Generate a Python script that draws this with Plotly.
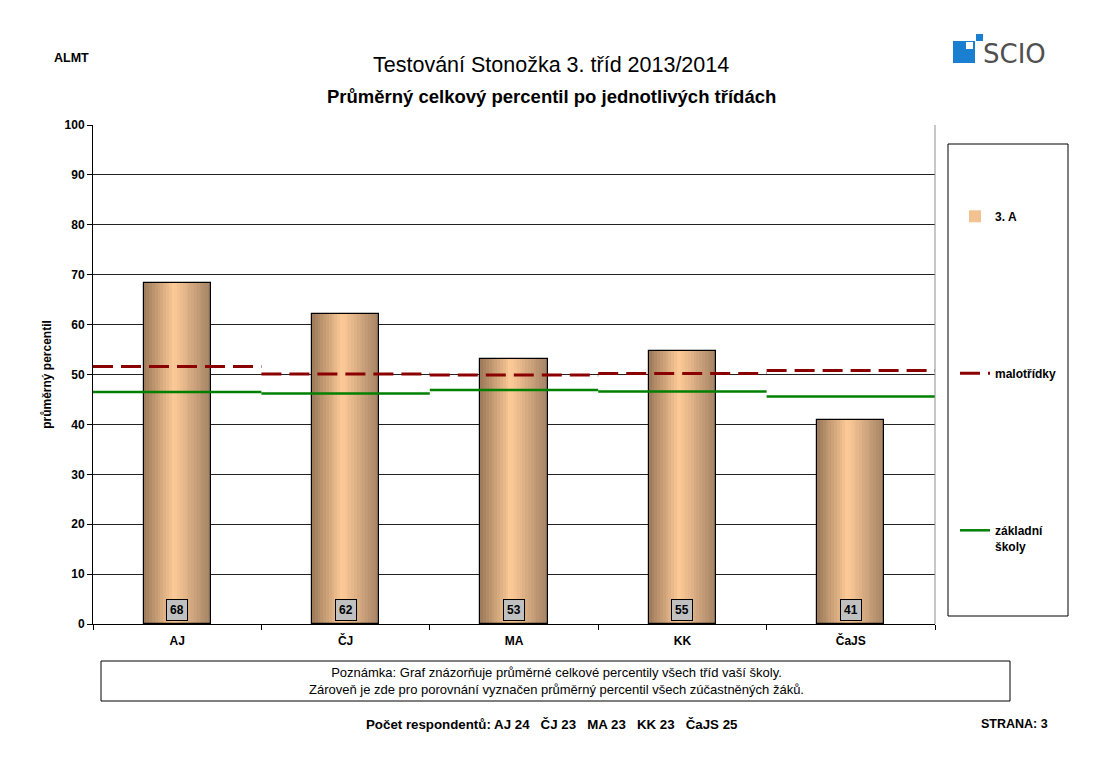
import plotly.graph_objects as go

# ---- data ----
categories = ["AJ", "ČJ", "MA", "KK", "ČaJS"]
class_values = [68.3, 62.1, 53.1, 54.7, 40.9]          # 3. A
malotridky = [51.6, 50.1, 49.9, 50.2, 50.8]
zakladni = [46.5, 46.2, 46.9, 46.6, 45.6]
respondents = [24, 23, 23, 23, 25]
series_names = ["3. A", "malotřídky", "základní<br>školy"]

# ---- geometry helpers (layout only) ----
W, H = 1114, 763
L, R, T, B = 93, 935, 125, 624
def px(x):
    return (x - L) / (R - L)
def py(y):
    return (B - y) / (B - T)

def lerp(c1, c2, t):
    return "#%02x%02x%02x" % tuple(round(a + (b - a) * t) for a, b in zip(c1, c2))

EDGE_L = (0xa0, 0x7c, 0x5c)
MID = (0xfe, 0xcb, 0x98)
EDGE_R = (0xa6, 0x84, 0x66)
PEAK = 0.45

fig = go.Figure()

BAR_W = 0.4
N = 24
for k in range(N):
    t = k / (N - 1)
    if t <= PEAK:
        col = lerp(EDGE_L, MID, t / PEAK)
    else:
        col = lerp(MID, EDGE_R, (t - PEAK) / (1 - PEAK))
    start = -BAR_W / 2 + k * BAR_W / N
    fig.add_trace(go.Bar(
        x=categories, y=class_values, offset=start, width=BAR_W / 2 - start,
        marker=dict(color=col, line=dict(width=0)),
        showlegend=(k == N // 2), name="<b>%s</b>" % series_names[0], legendgroup="a",
        hoverinfo="skip"))
fig.add_trace(go.Bar(
    x=categories, y=class_values, offset=-BAR_W / 2, width=BAR_W,
    marker=dict(color="rgba(0,0,0,0)", line=dict(color="black", width=1.2)),
    showlegend=False, name=series_names[0], legendgroup="a"))

def segments(vals):
    xx, yy = [], []
    for i, v in enumerate(vals):
        xx += [i - 0.5, i + 0.5, None]
        yy += [v, v, None]
    return xx, yy

mx, my = segments(malotridky)
fig.add_trace(go.Scatter(x=mx, y=my, mode="lines", xaxis="x2", name="<b>%s</b>" % series_names[1],
                         legendgroup="m",
                         line=dict(color="#8b0000", width=3, dash="20px,8px")))
zx, zy = segments(zakladni)
fig.add_trace(go.Scatter(x=zx, y=zy, mode="lines", xaxis="x2", name="<b>%s</b>" % series_names[2],
                         legendgroup="z",
                         line=dict(color="#008000", width=2.5)))

F = "Liberation Sans, Arial"
annotations = []
for c, v in zip(categories, class_values):
    annotations.append(dict(x=c, y=2.9, xref="x", yref="y", text="<b>%d</b>" % round(v),
                            showarrow=False, bgcolor="#c0c0c0", bordercolor="black",
                            borderwidth=1, borderpad=3, yanchor="middle",
                            font=dict(family=F, size=12, color="black")))

def txt(x, y, text, size, xanchor="center", family=F, color="black"):
    return dict(x=px(x), y=py(y), xref="paper", yref="paper", showarrow=False,
                xanchor=xanchor, yanchor="middle", text=text,
                font=dict(family=family, size=size, color=color))

annotations += [
    txt(551, 65, "Testování Stonožka 3. tříd 2013/2014", 21.5),
    txt(551, 96, "<b>Průměrný celkový percentil po jednotlivých třídách</b>", 18.5),
    txt(52, 58, "<b>ALMT</b>", 12.5, xanchor="left"),
    txt(981, 54, "SCIO", 26, xanchor="left", family="DejaVu Sans, Arial", color="#505050"),
    txt(556, 681, "Poznámka: Graf znázorňuje průměrné celkové percentily všech tříd vaší školy.<br>"
                  "Zároveň je zde pro porovnání vyznačen průměrný percentil všech zúčastněných žáků.", 13),
    txt(552, 724, "<b>Počet respondentů: " + "   ".join(f"{c} {n}" for c, n in zip(categories, respondents)) + "</b>", 13.3),
    txt(1050, 724, "<b>STRANA: 3</b>", 12.5, xanchor="right"),
]

shapes = [
    dict(type="line", xref="paper", yref="paper", x0=1, x1=1, y0=0, y1=1,
         line=dict(color="#909090", width=1)),
    dict(type="rect", xref="paper", yref="paper", x0=px(948), x1=px(1068), y0=py(616), y1=py(144),
         line=dict(color="black", width=1)),
    dict(type="rect", xref="paper", yref="paper", x0=px(101), x1=px(1010), y0=py(701), y1=py(661),
         line=dict(color="black", width=1)),
    dict(type="rect", xref="paper", yref="paper", x0=px(953), x1=px(975), y0=py(63), y1=py(41),
         line=dict(width=0), fillcolor="#1a7fd0"),
    dict(type="rect", xref="paper", yref="paper", x0=px(966), x1=px(973), y0=py(49), y1=py(42),
         line=dict(width=0), fillcolor="white"),
    dict(type="rect", xref="paper", yref="paper", x0=px(976), x1=px(983), y0=py(41), y1=py(34),
         line=dict(width=0), fillcolor="#1a7fd0"),
]

fig.update_layout(
    width=W, height=H,
    margin=dict(l=L, r=W - R, t=T, b=H - B),
    paper_bgcolor="white", plot_bgcolor="white",
    barmode="overlay", bargap=0,
    font=dict(family=F, size=11, color="black"),
    xaxis=dict(type="category", range=[-0.5, 4.5], tickson="boundaries", ticks="outside",
               ticklen=5, tickcolor="black", showline=True, linecolor="black", linewidth=1,
               showgrid=False, tickfont=dict(family=F, size=12, color="black"),
               tickprefix="<b>", ticksuffix="</b>", ticklabelstandoff=6, fixedrange=True),
    xaxis2=dict(overlaying="x", range=[-0.5, 4.5], visible=False, showgrid=False),
    yaxis=dict(range=[0, 100], dtick=10, ticks="outside", ticklen=5, tickcolor="black",
               showline=True, linecolor="black", linewidth=1, showgrid=True,
               gridcolor="#222222", gridwidth=1, zeroline=False,
               tickfont=dict(family=F, size=12, color="black"),
               tickprefix="<b>", ticksuffix="</b>",
               title=dict(text="<b>průměrný percentil</b>", font=dict(family=F, size=12), standoff=10)),
    legend=dict(x=px(955), xanchor="left", y=py(202), yanchor="top",
                bgcolor="rgba(0,0,0,0)", tracegroupgap=138, valign="top",
                font=dict(family=F, size=12, color="black"), itemwidth=30,
                traceorder="grouped"),
    annotations=annotations,
    shapes=shapes,
)

fig.write_html("out.html")
